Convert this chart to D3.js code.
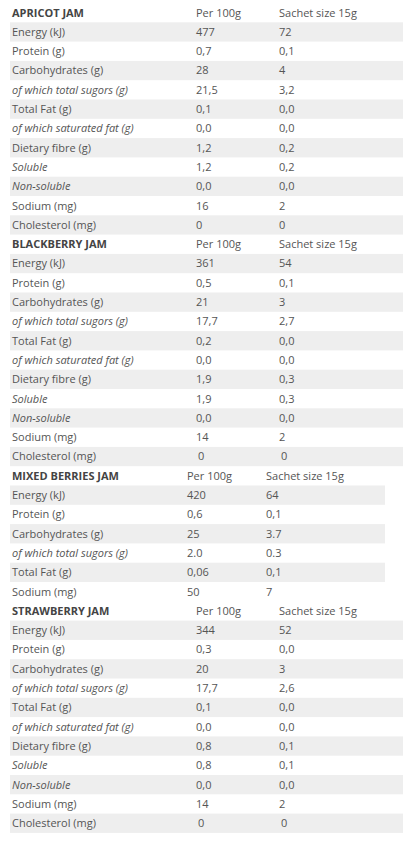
<!DOCTYPE html><html><head><meta charset="utf-8">
<script src="https://cdn.jsdelivr.net/npm/d3@7"></script>
<style>body{margin:0;background:#fff}text{font-family:"Open Sans",sans-serif;font-size:11px;fill:#555}</style></head><body><svg id="c" width="411" height="845"></svg>
<script>
const products=["APRICOT JAM","BLACKBERRY JAM","MIXED BERRIES JAM","STRAWBERRY JAM"];
const fullRows=["Energy (kJ)","Protein (g)","Carbohydrates (g)","of which total sugors (g)","Total Fat (g)","of which saturated fat (g)","Dietary fibre (g)","Soluble","Non-soluble","Sodium (mg)","Cholesterol (mg)"];
const mixedRows=["Energy (kJ)","Protein (g)","Carbohydrates (g)","of which total sugors (g)","Total Fat (g)","Sodium (mg)"];
const italicRows=["of which total sugors (g)","of which saturated fat (g)","Soluble","Non-soluble"];
const apricotPer100=["477","0,7","28","21,5","0,1","0,0","1,2","1,2","0,0","16","0"];
const apricotSachet=["72","0,1","4","3,2","0,0","0,0","0,2","0,2","0,0","2","0"];
const blackberryPer100=["361","0,5","21","17,7","0,2","0,0","1,9","1,9","0,0","14","0"];
const blackberrySachet=["54","0,1","3","2,7","0,0","0,0","0,3","0,3","0,0","2","0"];
const mixedPer100=["420","0,6","25","2.0","0,06","50"];
const mixedSachet=["64","0,1","3.7","0.3","0,1","7"];
const strawberryPer100=["344","0,3","20","17,7","0,1","0,0","0,8","0,8","0,0","14","0"];
const strawberrySachet=["52","0,0","3","2,6","0,0","0,0","0,1","0,1","0,0","2","0"];
const colHeads=["Per 100g","Sachet size 15g"];

const sections=[
 {name:products[0],rows:fullRows,a:apricotPer100,b:apricotSachet,wide:true},
 {name:products[1],rows:fullRows,a:blackberryPer100,b:blackberrySachet,wide:true},
 {name:products[2],rows:mixedRows,a:mixedPer100,b:mixedSachet,wide:false},
 {name:products[3],rows:fullRows,a:strawberryPer100,b:strawberrySachet,wide:true}];
const lines=[];
sections.forEach((s,si)=>{
 lines.push({si,head:true,label:s.name,a:colHeads[0],b:colHeads[1],idx:-1,wide:s.wide});
 s.rows.forEach((r,i)=>lines.push({si,head:false,label:r,a:s.a[i],b:s.b[i],idx:i,wide:s.wide,chol:r.startsWith("Cholesterol")&&si!=0}));
});
const y=d3.scaleBand().domain(d3.range(lines.length)).range([3,3+lines.length*19.3]);
const svg=d3.select("#c");
const g=svg.selectAll("g").data(lines).join("g").attr("transform",(d,i)=>`translate(0,${y(i)})`);
g.filter(d=>!d.head&&d.idx%2==0).append("rect").attr("x",10).attr("width",d=>d.wide?393:375).attr("height",y.bandwidth()).attr("fill","#eeeeee");
g.append("text").attr("x",12).attr("y",13.5).text(d=>d.label)
 .attr("font-weight",d=>d.head?"bold":null).attr("font-style",d=>italicRows.includes(d.label)?"italic":null)
 .style("fill",d=>d.head?"#444":null);
g.append("text").attr("x",d=>d.wide?(d.chol?198:196):187).attr("y",13.5).text(d=>d.a);
g.append("text").attr("x",d=>d.wide?(d.chol?281:279):266).attr("y",13.5).text(d=>d.b);
</script></body></html>
